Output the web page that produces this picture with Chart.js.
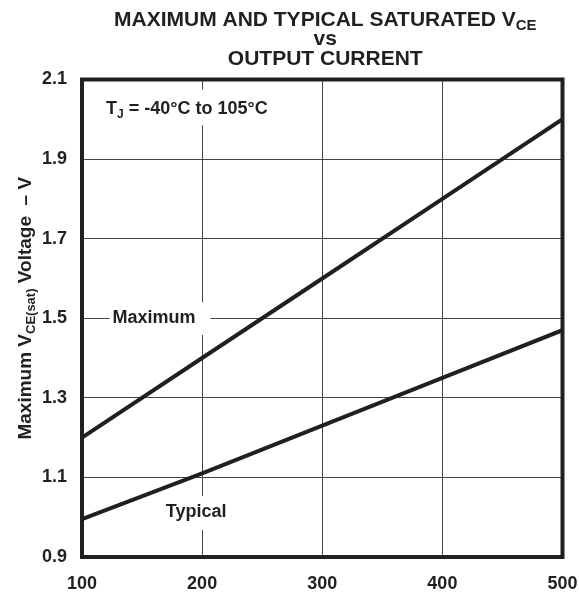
<!DOCTYPE html>
<html><head><meta charset="utf-8">
<script src="https://cdn.jsdelivr.net/npm/chart.js@4"></script>
<style>html,body{margin:0;padding:0;background:#fff}#wrap{width:579px;height:596px;position:relative}</style>
</head><body><div id="wrap"><canvas id="c"></canvas></div>
<script>
// Data
const outputCurrent = [100, 200, 300, 400, 500];
const maximumVce = [1.2, 1.4, 1.6, 1.8, 2.0];
const typicalVce = [0.995, 1.11, 1.23, 1.35, 1.47];
const xTickValues = [100, 200, 300, 400, 500];
const yTickValues = [0.9, 1.1, 1.3, 1.5, 1.7, 1.9, 2.1];
const titleLines = ['MAXIMUM AND TYPICAL SATURATED V', 'vs', 'OUTPUT CURRENT'];

const FONT = '"Liberation Sans", Arial, Helvetica, sans-serif';
const INK = '#231f20';
const GRID = '#444444';

function pts(ys) { return outputCurrent.map((x, i) => ({ x: x, y: ys[i] })); }

const annotations = [
  { parts: [['T', 18, 0], ['J', 12, 4], [' = -40°C to 105°C', 18, 0]], x: 120, y: 2.0125, align: 'left',
    box: { x0: 113, x1: 250, y0: 2.075, y1: 1.985 } },
  { parts: [['Maximum', 18, 0]], x: 160, y: 1.5, align: 'center', middle: true,
    box: { x0: 123, x1: 207, y0: 1.54, y1: 1.458 } },
  { parts: [['Typical', 18, 0]], x: 195, y: 1.0125, align: 'center', middle: true,
    box: { x0: 163, x1: 225, y0: 1.053, y1: 0.968 } }
];

function drawParts(ctx, parts, x, y, align) {
  let total = 0;
  parts.forEach(p => { ctx.font = 'bold ' + p[1] + 'px ' + FONT; total += ctx.measureText(p[0]).width; });
  let cx = align === 'center' ? x - total / 2 : x;
  ctx.textAlign = 'left';
  parts.forEach(p => {
    ctx.font = 'bold ' + p[1] + 'px ' + FONT;
    ctx.fillText(p[0], cx, y + p[2]);
    cx += ctx.measureText(p[0]).width;
  });
}

const knockoutPlugin = {
  id: 'knockout',
  beforeDatasetsDraw(chart) {
    const { ctx, scales: { x, y } } = chart;
    ctx.save();
    ctx.fillStyle = '#ffffff';
    annotations.forEach(a => {
      const b = a.box;
      const px0 = x.getPixelForValue(b.x0), px1 = x.getPixelForValue(b.x1);
      const py0 = y.getPixelForValue(b.y0), py1 = y.getPixelForValue(b.y1);
      ctx.fillRect(px0, py0, px1 - px0, py1 - py0);
    });
    ctx.fillStyle = INK;
    annotations.forEach(a => {
      ctx.textBaseline = a.middle ? 'middle' : 'alphabetic';
      drawParts(ctx, a.parts, x.getPixelForValue(a.x), y.getPixelForValue(a.y), a.align);
    });
    ctx.restore();
  }
};

const framePlugin = {
  id: 'frame',
  afterDatasetsDraw(chart) {
    const { ctx, chartArea: ca } = chart;
    ctx.save();
    ctx.strokeStyle = INK;
    ctx.lineWidth = 4;
    ctx.strokeRect(ca.left, ca.top, ca.right - ca.left, ca.bottom - ca.top);
    ctx.restore();
  },
  afterDraw(chart) {
    const { ctx, chartArea: ca } = chart;
    ctx.save();
    ctx.fillStyle = INK;
    ctx.textBaseline = 'alphabetic';
    const cx = (ca.left + ca.right) / 2 + 3;
    drawParts(ctx, [[titleLines[0], 21, 0], ['CE', 15, 4]], cx, 26, 'center');
    drawParts(ctx, [[titleLines[1], 21, 0]], cx, 45, 'center');
    drawParts(ctx, [[titleLines[2], 21, 0]], cx, 65, 'center');
    ctx.translate(31, (ca.top + ca.bottom) / 2 - 10);
    ctx.rotate(-Math.PI / 2);
    drawParts(ctx, [['Maximum V', 19, 0], ['CE(sat)', 13, 4], [' Voltage  – V', 19, 0]], 0, 0, 'center');
    ctx.restore();
  }
};

new Chart(document.getElementById('c'), {
  type: 'line',
  data: {
    datasets: [
      { label: 'Maximum', data: pts(maximumVce), borderColor: INK, borderWidth: 4, pointRadius: 0, tension: 0, fill: false },
      { label: 'Typical', data: pts(typicalVce), borderColor: INK, borderWidth: 4, pointRadius: 0, tension: 0, fill: false }
    ]
  },
  options: {
    responsive: true,
    maintainAspectRatio: false,
    animation: false,
    events: [],
    layout: { padding: { top: 79.5, right: 16.5, left: 0, bottom: 0 } },
    plugins: { legend: { display: false }, title: { display: false }, tooltip: { enabled: false } },
    scales: {
      x: {
        type: 'linear', min: 100, max: 500,
        afterBuildTicks: s => { s.ticks = xTickValues.map(v => ({ value: v })); },
        afterFit: s => { s.height = 39; s.paddingLeft = 0; s.paddingRight = 0; },
        grid: { color: GRID, lineWidth: 1, drawTicks: false },
        border: { display: false },
        ticks: { color: INK, font: { family: FONT, size: 18, weight: 'bold' }, padding: 16, maxRotation: 0,
                 callback: v => String(v) }
      },
      y: {
        type: 'linear', min: 0.9, max: 2.1,
        afterBuildTicks: s => { s.ticks = yTickValues.map(v => ({ value: v })); },
        afterFit: s => { s.width = 82; s.paddingTop = 0; s.paddingBottom = 0; },
        grid: { color: GRID, lineWidth: 1, drawTicks: false },
        border: { display: false },
        ticks: { color: INK, font: { family: FONT, size: 18, weight: 'bold' }, padding: 15,
                 callback: v => v.toFixed(1) }
      }
    }
  },
  plugins: [knockoutPlugin, framePlugin]
});
</script>
</body></html>
